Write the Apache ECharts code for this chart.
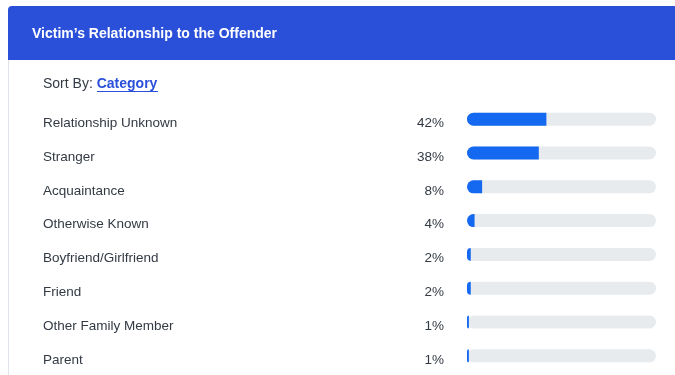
<!DOCTYPE html>
<html>
<head>
<meta charset="utf-8">
<script src="https://cdn.jsdelivr.net/npm/echarts@6/dist/echarts.min.js"></script>
<style>
  html, body { margin: 0; padding: 0; background: #ffffff; }
  #chart { width: 675px; height: 375px; }
</style>
</head>
<body>
<div id="chart"></div>
<script>
// Victim's relationship to the offender, share of incidents (%)
const categories = [
  'Relationship Unknown',
  'Stranger',
  'Acquaintance',
  'Otherwise Known',
  'Boyfriend/Girlfriend',
  'Friend',
  'Other Family Member',
  'Parent'
];
const shares = [42, 38, 8, 4, 2, 2, 1, 1];

const titleText = 'Victim\u2019s Relationship to the Offender';
const sortLabel = 'Sort By: ';
const sortValue = 'Category';

const blue = '#2a4fd9';
const fill = '#1569f0';
const track = '#e8ebee';
const textColor = '#333a44';
const font = 'Liberation Sans, Arial, Helvetica, sans-serif';

const chart = echarts.init(document.getElementById('chart'), null, { renderer: 'canvas' });

const shareByName = {};
categories.forEach((c, i) => { shareByName[c] = shares[i]; });

chart.setOption({
  animation: false,
  backgroundColor: '#ffffff',
  graphic: [
    // card outline
    {
      type: 'rect', z: 0,
      shape: { x: 8.5, y: 6.5, width: 700, height: 400, r: 4 },
      style: { fill: '#ffffff', stroke: '#dfe4ea', lineWidth: 1 }
    },
    // header band
    {
      type: 'rect', z: 1,
      shape: { x: 8, y: 6, width: 700, height: 54, r: [4, 0, 0, 0] },
      style: { fill: blue }
    },
    {
      type: 'text', z: 2, left: 32, top: 27,
      style: { text: titleText, fill: '#ffffff', font: 'bold 14px ' + font }
    },
    // sort control
    {
      type: 'text', z: 2, left: 43, top: 77,
      style: {
        text: '{a|' + sortLabel + '}{b|' + sortValue + '}',
        rich: {
          a: { fill: textColor, font: '14px ' + font },
          b: { fill: blue, font: 'bold 14px ' + font }
        }
      }
    },
    {
      type: 'line', z: 2,
      shape: { x1: 97, y1: 91.5, x2: 158, y2: 91.5 },
      style: { stroke: blue, lineWidth: 1 }
    }
  ],
  grid: { left: 467, right: 19, top: 102.3, bottom: 2.3, containLabel: false },
  xAxis: {
    type: 'value', min: 0, max: 100, show: false
  },
  yAxis: {
    type: 'category',
    data: categories,
    inverse: true,
    axisLine: { show: false },
    axisTick: { show: false },
    splitLine: { show: false },
    axisLabel: {
      margin: 23,
      formatter: function (v) {
        return '{n|' + v + '}{p|' + shareByName[v] + '%}';
      },
      rich: {
        n: { width: 361, align: 'left', color: textColor, fontSize: 13.5, fontFamily: font, padding: [8, 0, 0, 0] },
        p: { width: 40, align: 'right', color: textColor, fontSize: 13.5, fontFamily: font, padding: [8, 0, 0, 0] }
      }
    }
  },
  series: [{
    type: 'bar',
    data: shares,
    barWidth: 13,
    showBackground: true,
    backgroundStyle: { color: track, borderRadius: 6.5 },
    itemStyle: { color: fill, borderRadius: [6.5, 0, 0, 6.5] }
  }]
});
</script>
</body>
</html>
